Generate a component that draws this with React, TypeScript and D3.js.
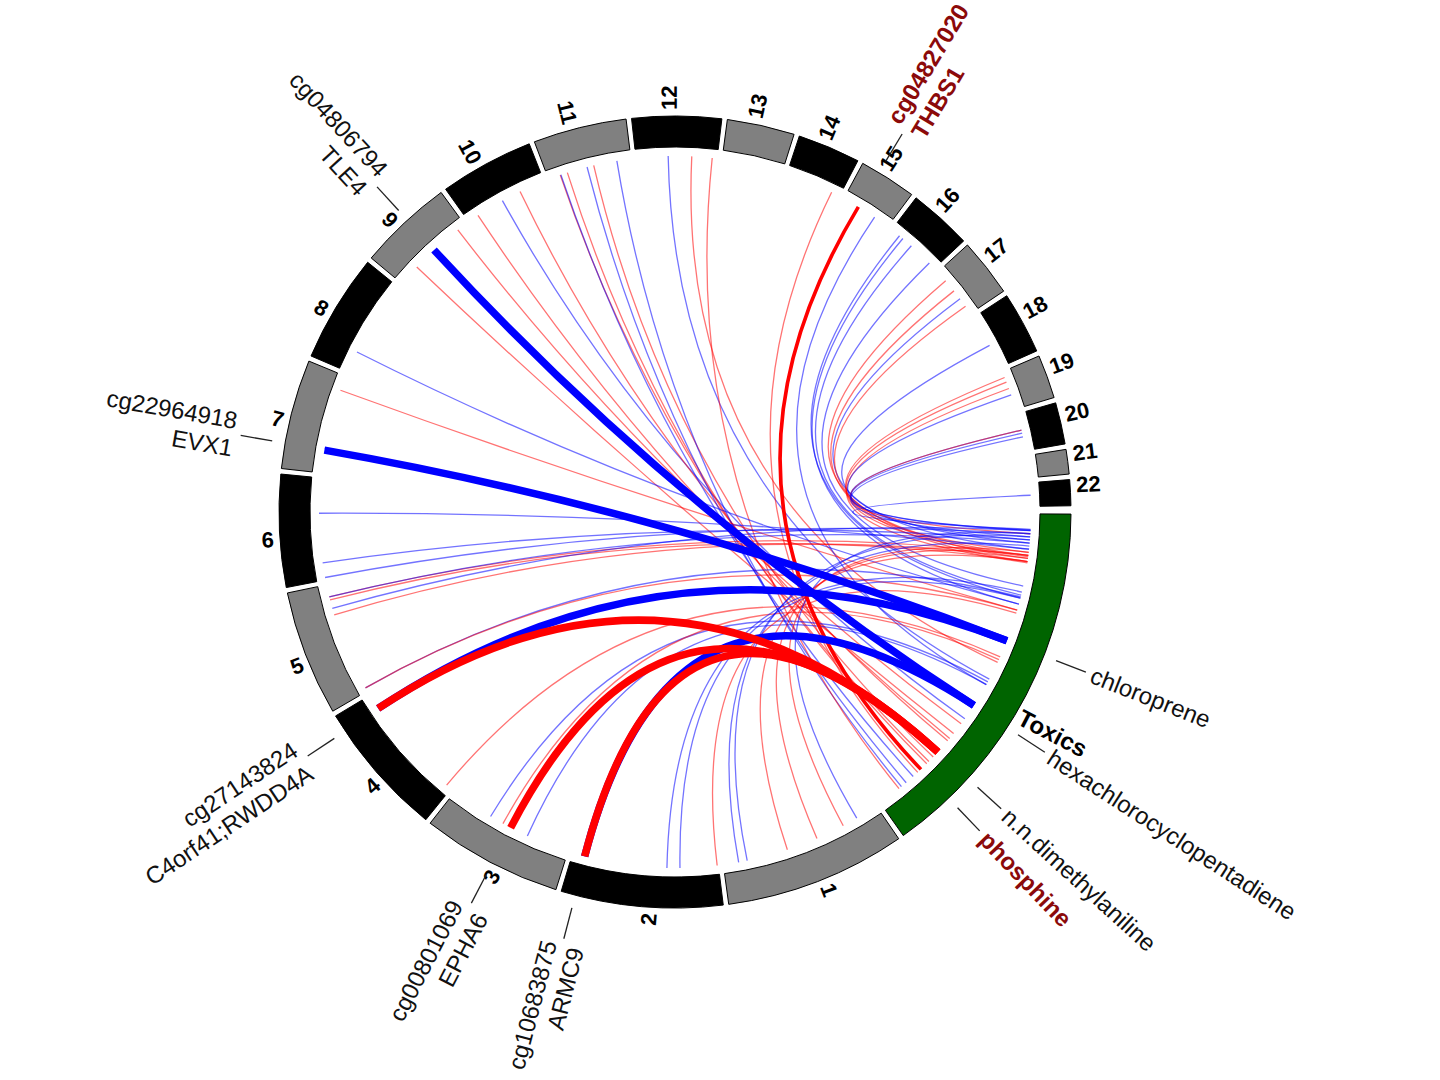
import React from "react";
import * as d3 from "d3";

// ---------- data ----------
// segments in clockwise order, starting with the Toxics sector (relative sizes)
const SEGMENTS = ["Toxics", "1", "2", "3", "4", "5", "6", "7", "8", "9", "10", "11", "12", "13", "14", "15", "16", "17", "18", "19", "20", "21", "22"];
const SEGMENT_SIZES = [54.5, 26.6, 23.7, 20.7, 20.0, 18.4, 16.5, 16.1, 15.9, 13.9, 13.8, 13.7, 13.1, 9.9, 9.2, 8.4, 9.3, 8.5, 9.1, 6.4, 6.1, 3.6, 3.8];

// links: [chromosome, position on chromosome, position on Toxics, sign (+1 red / -1 blue), strength (1 thin, 2 medium, 3 thick)]
const LINKS: [string, number, number, number, number][] = [
  ["9", 3.6, 38.2, 1, 1],
  ["9", 12.5, 36.2, 1, 1],
  ["10", 1.8, 39.2, 1, 1],
  ["10", 6.4, 35.2, -1, 1],
  ["10", 9.6, 39.7, 1, 1],
  ["11", 2.0, 44.2, 1, 1],
  ["11", 2.1, 47.7, -1, 1],
  ["11", 3.2, 44.7, 1, 1],
  ["11", 6.5, 49.2, -1, 1],
  ["11", 7.6, 43.2, 1, 1],
  ["11", 11.4, 50.2, -1, 1],
  ["12", 5.2, 27.7, -1, 1],
  ["12", 9.0, 24.7, 1, 1],
  ["12", 12.3, 50.7, 1, 1],
  ["14", 7.8, 46.7, 1, 1],
  ["15", 5.8, 28.7, -1, 1],
  ["16", 1.6, 13.7, -1, 1],
  ["16", 2.3, 14.7, -1, 1],
  ["16", 4.1, 13.2, -1, 1],
  ["16", 8.1, 11.7, -1, 1],
  ["17", 1.9, 7.2, 1, 1],
  ["17", 4.0, 7.7, 1, 1],
  ["17", 5.6, 5.7, -1, 1],
  ["17", 7.1, 6.7, 1, 1],
  ["18", 5.2, 4.7, -1, 1],
  ["19", 1.0, 6.2, 1, 1],
  ["19", 1.8, 6.9, 1, 1],
  ["19", 2.9, 7.9, 1, 1],
  ["19", 4.0, 4.2, -1, 1],
  ["20", 2.7, 2.7, -1, 1],
  ["20", 2.7, 3.2, 1, 1],
  ["20", 3.2, 2.6, -1, 1],
  ["20", 3.8, 3.7, -1, 1],
  ["22", 2.0, 2.5, -1, 1],
  ["8", 3.5, 14.7, -1, 1],
  ["7", 13.7, 15.7, 1, 1],
  ["7", 4.0, 20.7, -1, 1],
  ["6", 10.8, 5.7, -1, 1],
  ["6", 2.8, 4.2, -1, 1],
  ["6", 0.4, 3.2, -1, 1],
  ["5", 16.4, 6.7, 1, 1],
  ["5", 16.4, 4.7, -1, 1],
  ["5", 15.9, 7.7, 1, 1],
  ["5", 14.5, 2.7, -1, 1],
  ["5", 13.4, 7.2, 1, 1],
  ["5", 0.6, 13.5, -1, 1],
  ["5", 0.6, 15.7, 1, 1],
  ["4", 0.9, 23.7, 1, 1],
  ["3", 13.7, 28.2, -1, 1],
  ["3", 11.4, 24.2, 1, 1],
  ["3", 7.0, 28.7, -1, 1],
  ["2", 8.3, 12.7, -1, 1],
  ["2", 6.2, 13.7, -1, 1],
  ["2", 0.2, 16.2, 1, 1],
  ["1", 24.1, 5.2, -1, 1],
  ["1", 22.7, 3.7, -1, 1],
  ["1", 16.0, 7.7, 1, 1],
  ["1", 10.9, 6.7, 1, 1],
  ["1", 6.2, 6.2, 1, 1],
  ["1", 3.7, 3.2, -1, 1],
  ["15", 2.7, 46.0, 1, 2],
  ["9", 7.5, 32.6, -1, 3],
  ["7", 3.7, 20.9, -1, 3],
  ["4", 17.5, 20.9, -1, 3],
  ["2", 21.7, 32.6, -1, 3],
  ["4", 17.5, 42.1, 1, 3],
  ["3", 10.0, 42.1, 1, 3],
  ["2", 21.7, 42.1, 1, 3],
];

// labelled CpG sites
const CPG_CHR = ["9", "7", "4", "3", "2", "15"];
const CPG_POS = [7.6, 3.7, 17.4, 10.0, 21.6, 2.7];
const CPG_ID = ["cg04806794", "cg22964918", "cg27143824", "cg00801069", "cg10683875", "cg04827020"];
const CPG_GENE = ["TLE4", "EVX1", "C4orf41;RWDD4A", "EPHA6", "ARMC9", "THBS1"];
const CPG_HIGHLIGHT = [false, false, false, false, false, true];

// labelled toxics
const TOXIC_NAMES = ["chloroprene", "hexachlorocyclopentadiene", "n.n.dimethylaniline", "phosphine"];
const TOXIC_POS = [21.0, 32.7, 42.0, 46.0];
const TOXIC_HIGHLIGHT = [false, false, false, true];

// ---------- layout ----------
const CX = 675;
const CY = 512;
const R_OUT = 396;
const R_IN = 365;
const R_LINK = 356;
const START_ANGLE = 90.3;
const GAP = 0.8;
const FONT = "'Liberation Sans', Arial, Helvetica, sans-serif";
const LABEL_RED = "#8b0a0a";

const rad = (d: number) => (d * Math.PI) / 180;
const pt = (deg: number, r: number): [number, number] => [CX + r * Math.sin(rad(deg)), CY - r * Math.cos(rad(deg))];

export default function App() {
  const angleScale = d3.scaleLinear().domain([0, 360]).range([START_ANGLE, START_ANGLE + 360]);
  const offsets: Record<string, number> = {};
  let acc = 0;
  SEGMENTS.forEach((s, i) => {
    offsets[s] = acc;
    acc += SEGMENT_SIZES[i] + GAP;
  });
  const ang = (seg: string, pos: number) => angleScale(offsets[seg] + pos);
  const arc = d3.arc<any>();

  const segFill = (i: number) => (i === 0 ? "#006400" : i % 2 === 1 ? "#808080" : "#000000");

  const linkPath = (l: [string, number, number, number, number]) => {
    const a1 = ang(l[0], l[1]);
    const a2 = ang("Toxics", l[2]);
    const [x1, y1] = pt(a1, R_LINK);
    const [x2, y2] = pt(a2, R_LINK);
    const p = d3.path();
    p.moveTo(x1, y1);
    p.quadraticCurveTo(CX, CY, x2, y2);
    return p.toString();
  };

  const linkStyle = (l: [string, number, number, number, number]) => {
    const color = l[3] > 0 ? "#ff0000" : "#0000ff";
    if (l[4] === 1) return { stroke: color, strokeWidth: 1.3, strokeOpacity: 0.55 };
    if (l[4] === 2) return { stroke: color, strokeWidth: 3.6, strokeOpacity: 1 };
    return { stroke: color, strokeWidth: 7.5, strokeOpacity: 1 };
  };

  const sorted = LINKS.map((l, i) => ({ l, i })).sort((a, b) => a.l[4] - b.l[4] || a.i - b.i);

  const radialText = (deg: number, r: number) => {
    const d = ((deg % 360) + 360) % 360;
    const right = d < 180;
    const [x, y] = pt(deg, r);
    const rot = right ? d - 90 : d + 90;
    return { right, transform: `translate(${x},${y}) rotate(${rot})` };
  };

  return (
    <svg width={1440} height={1080} style={{ position: "absolute", left: 0, top: 0, background: "#fff" }} fontFamily={FONT}>
      <rect x={0} y={0} width={1440} height={1080} fill="#fff" />
      {/* ideogram ring */}
      <g transform={`translate(${CX},${CY})`}>
        {SEGMENTS.map((s, i) => (
          <path
            key={s}
            d={arc({ innerRadius: R_IN, outerRadius: R_OUT, startAngle: rad(ang(s, 0)), endAngle: rad(ang(s, SEGMENT_SIZES[i])) }) || ""}
            fill={segFill(i)}
            stroke="#000"
            strokeWidth={1}
          />
        ))}
      </g>
      {/* links */}
      <g fill="none" strokeLinecap="butt">
        {sorted.map(({ l, i }) => (
          <path key={i} d={linkPath(l)} {...linkStyle(l)} />
        ))}
      </g>
      {/* chromosome labels */}
      {SEGMENTS.slice(1).map((s, k) => {
        const a = ang(s, SEGMENT_SIZES[k + 1] / 2);
        const t = radialText(a, 402);
        return (
          <text key={s} transform={t.transform} textAnchor={t.right ? "start" : "end"} dy={t.right ? "0" : "0.72em"} fontSize={22} fontWeight="bold" fill="#000">
            {s}
          </text>
        );
      })}
      {/* sector label */}
      {(() => {
        const a = ang("Toxics", SEGMENT_SIZES[0] / 2);
        const t = radialText(a, 400);
        return (
          <text transform={t.transform} textAnchor="start" dy="1.25em" fontSize={24} fontWeight="bold" fill="#000">
            Toxics
          </text>
        );
      })()}
      {/* CpG labels */}
      {CPG_ID.map((id, k) => {
        const a = ang(CPG_CHR[k], CPG_POS[k]);
        const [lx1, ly1] = pt(a, 409);
        const [lx2, ly2] = pt(a, 441);
        const t = radialText(a, 447);
        const col = CPG_HIGHLIGHT[k] ? LABEL_RED : "#111";
        return (
          <g key={id}>
            <line x1={lx1} y1={ly1} x2={lx2} y2={ly2} stroke="#222" strokeWidth={1.3} />
            <text transform={t.transform} textAnchor={t.right ? "start" : "end"} fontSize={24} fill={col} fontWeight={CPG_HIGHLIGHT[k] ? "bold" : "normal"}>
              <tspan x={0} y={-14} dominantBaseline="central">{id}</tspan>
              <tspan x={0} y={14} dominantBaseline="central">{CPG_GENE[k]}</tspan>
            </text>
          </g>
        );
      })}
      {/* toxic labels */}
      {TOXIC_NAMES.map((n, k) => {
        const a = ang("Toxics", TOXIC_POS[k]);
        const [lx1, ly1] = pt(a, 409);
        const [lx2, ly2] = pt(a, 441);
        const t = radialText(a, 447);
        const col = TOXIC_HIGHLIGHT[k] ? LABEL_RED : "#111";
        return (
          <g key={n}>
            <line x1={lx1} y1={ly1} x2={lx2} y2={ly2} stroke="#222" strokeWidth={1.3} />
            <text transform={t.transform} textAnchor="start" dominantBaseline="central" fontSize={24} fill={col} fontWeight={TOXIC_HIGHLIGHT[k] ? "bold" : "normal"}>
              {n}
            </text>
          </g>
        );
      })}
    </svg>
  );
}
